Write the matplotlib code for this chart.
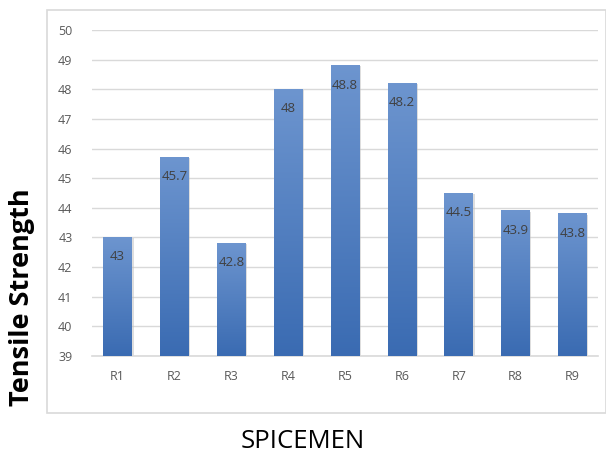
import numpy as np
import matplotlib.pyplot as plt
from matplotlib.patches import Rectangle
from matplotlib.colors import LinearSegmentedColormap

specimens = ["R1", "R2", "R3", "R4", "R5", "R6", "R7", "R8", "R9"]
strength = [43, 45.7, 42.8, 48, 48.8, 48.2, 44.5, 43.9, 43.8]
yticks = list(range(39, 51))

plt.rcParams['font.family'] = ['Open Sans', 'DejaVu Sans']

fig = plt.figure(figsize=(6.06, 4.55), dpi=100)
W, H = 606, 455

# outer chart frame
fig.patches.append(Rectangle((47 / W, 1 - 413 / H), (606 - 47) / W, (413 - 10) / H,
                             transform=fig.transFigure, fill=False,
                             edgecolor='#d9d9d9', linewidth=1.2))

ax = fig.add_axes([92 / W, 1 - 356 / H, (598 - 92) / W, (356 - 30) / H])

ax.set_yticks(yticks)
ax.yaxis.grid(True, color='#d9d9d9', linewidth=1)
ax.set_axisbelow(True)
for s in ['top', 'right', 'left']:
    ax.spines[s].set_visible(False)
ax.spines['bottom'].set_color('#d9d9d9')
ax.spines['bottom'].set_linewidth(1.2)
ax.tick_params(axis='both', length=0, colors='#595959', labelsize=9)
ax.tick_params(axis='y', pad=14)
ax.tick_params(axis='x', pad=10)
ax.set_xticks(range(len(specimens)))
ax.set_xticklabels(specimens)

# gradient-filled bars
grad = np.linspace(0, 1, 256).reshape(-1, 1)
cmap = LinearSegmentedColormap.from_list('bluegrad', ['#3a6bb2', '#6d95cf'])
bw = 0.5
for i, v in enumerate(strength):
    # soft shadow
    ax.add_patch(Rectangle((i - bw / 2 + 0.03, 39), bw, v - 39 - 0.03,
                           facecolor='#bfbfbf', edgecolor='none', alpha=0.5, zorder=2))
    ax.imshow(grad, extent=(i - bw / 2, i + bw / 2, 39, v), origin='lower',
              cmap=cmap, aspect='auto', zorder=3)
    ax.annotate(f"{v:g}", (i, v), xytext=(0, -14), textcoords='offset points',
                ha='center', va='center', fontsize=9.5, color='#404040', zorder=4)

ax.set_xlim(-0.45, len(specimens) - 0.55)
ax.set_ylim(39, 50)

fig.text(22 / W, 1 - 297 / H, "Tensile Strength", rotation=90, ha='center', va='center',
         fontsize=19.5, fontweight='bold', color='black')
fig.text(303 / W, 1 - 441 / H, "SPICEMEN", ha='center', va='center',
         fontsize=18.5, color='black')

fig.savefig('out.png', dpi=100)
